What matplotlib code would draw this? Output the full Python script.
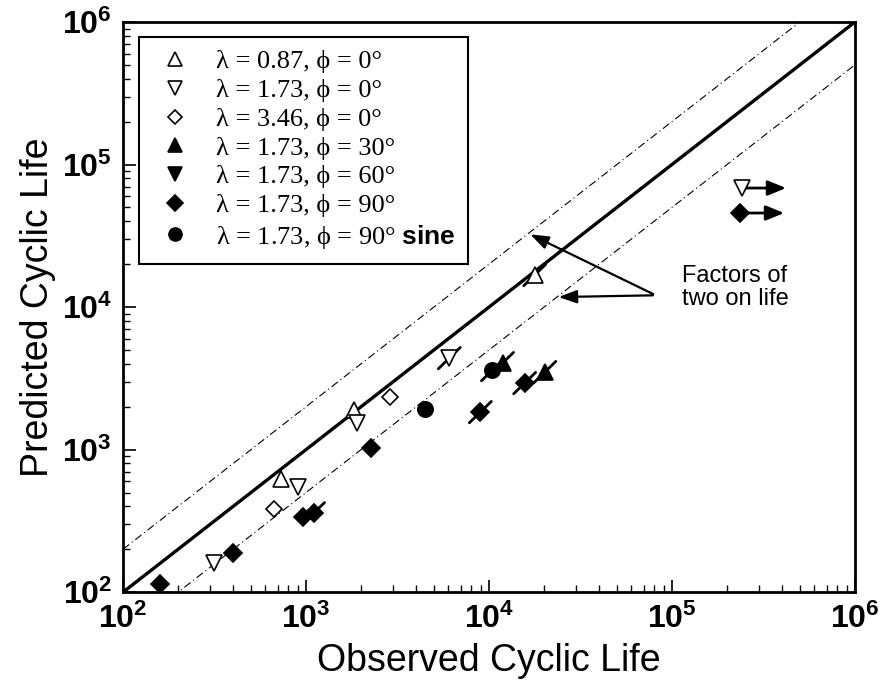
import matplotlib
matplotlib.use("Agg")
import numpy as np
import matplotlib.pyplot as plt
from matplotlib.ticker import FuncFormatter, LogLocator

plt.rcParams['font.family'] = ['Liberation Sans', 'DejaVu Sans']
plt.rcParams['mathtext.fontset'] = 'custom'
plt.rcParams['mathtext.bf'] = 'Liberation Sans:bold'
plt.rcParams['mathtext.rm'] = 'Liberation Sans:bold'
plt.rcParams['mathtext.sf'] = 'Liberation Sans:bold'

# data (observed, predicted cycles)
lam087_x = [730, 1820, 17800]
lam087_y = [620, 1890, 16800]
lam173_x = [313, 910, 1890, 6070]
lam173_y = [160, 550, 1535, 4385]
lam346_x = [668, 2870]
lam346_y = [382, 2335]
phi30_x = [11860, 20200]
phi30_y = [4045, 3500]
phi60_x = []
phi60_y = []
phi90_x = [160, 398, 966, 1100, 2260, 8970, 15670]
phi90_y = [115, 188, 336, 358, 1030, 1833, 2930]
sine_x = [4470, 10450]
sine_y = [1923, 3614]

# run-outs (no failure), shown with arrows
runout_x = [242000, 236000]
runout_y = [68400, 45700]
runout_marker = ['v', 'D']
runout_fill = ['white', 'black']

# points drawn with a short diagonal tail
tail_x = [6070, 17800, 11860, 20200, 15670, 8970, 1100, 10450]
tail_y = [4385, 16800, 4045, 3500, 2930, 1833, 358, 3614]

labels = [u'λ = 0.87, ϕ = 0°', u'λ = 1.73, ϕ = 0°', u'λ = 3.46, ϕ = 0°',
          u'λ = 1.73, ϕ = 30°', u'λ = 1.73, ϕ = 60°', u'λ = 1.73, ϕ = 90°',
          u'λ = 1.73, ϕ = 90° $\\mathsf{sine}$']

fig = plt.figure(figsize=(8.85, 6.87), dpi=100)
ax = fig.add_axes([0.139, 0.138, 0.827, 0.83])

lims = [100, 1e6]
ax.set_xscale('log')
ax.set_yscale('log')
ax.set_xlim(lims)
ax.set_ylim(lims)

# 1:1 line and factor-of-two bands
line_x = np.array(lims)
ax.plot(line_x, line_x, color='black', lw=2.4, zorder=2)
ax.plot(line_x, line_x * 2, color='black', lw=0.8, dashes=(7, 3, 1, 3), zorder=2)
ax.plot(line_x, line_x / 2, color='black', lw=0.8, dashes=(7, 3, 1, 3), zorder=2)

# tails
for tx, ty in zip(tail_x, tail_y):
    ax.plot([tx / 10**0.06, tx * 10**0.06], [ty / 10**0.075, ty * 10**0.075],
            color='black', lw=2.0, solid_capstyle='round', zorder=3)

series = [
    (lam087_x, lam087_y, '^', 'white', 12),
    (lam173_x, lam173_y, 'v', 'white', 12),
    (lam346_x, lam346_y, 'D', 'white', 8),
    (phi30_x, phi30_y, '^', 'black', 12),
    (phi60_x, phi60_y, 'v', 'black', 12),
    (phi90_x, phi90_y, 'D', 'black', 9),
    (sine_x, sine_y, 'o', 'black', 11),
]
handles = []
for (sx, sy, m, fc, ms), lab in zip(series, labels):
    h, = ax.plot(sx, sy, linestyle='none', marker=m, markerfacecolor=fc,
                 markeredgecolor='black', markeredgewidth=1.2, markersize=ms,
                 label=lab, zorder=4)
    handles.append(h)

# run-out points
for rx, ry, m, fc in zip(runout_x, runout_y, runout_marker, runout_fill):
    ax.annotate('', xy=(rx * 1.8, ry), xytext=(rx, ry),
                arrowprops=dict(arrowstyle='-|>,head_length=1.1,head_width=0.45',
                                color='black', lw=2), zorder=3)
    ax.plot(rx, ry, linestyle='none', marker=m, markerfacecolor=fc,
            markeredgecolor='black', markeredgewidth=1.2,
            markersize=12 if m == 'v' else 9, zorder=4)

# annotation
ax.text(113000, 13800, 'Factors of\ntwo on life', fontsize=17, ha='left', va='center',
        linespacing=1.05)
for ex, ey in [(16300, 33000), (23200, 11750)]:
    ax.annotate('', xy=(ex, ey), xytext=(81500, 12100),
                arrowprops=dict(arrowstyle='-|>,head_length=1.1,head_width=0.4',
                                color='black', lw=1.6))

leg = ax.legend(handles=handles, loc='upper left', bbox_to_anchor=(0.022, 0.974),
                borderaxespad=0, frameon=True, fancybox=False, framealpha=1,
                edgecolor='black', handlelength=1.7, handletextpad=0.7,
                borderpad=0.5, labelspacing=0.2,
                prop={'family': ['Liberation Serif', 'DejaVu Serif'], 'size': 19})
leg.get_frame().set_linewidth(1.5)
for h in leg.legend_handles:
    h.set_markersize(h.get_markersize() * 0.85)

# axes styling
for s in ax.spines.values():
    s.set_linewidth(2)
fmt = FuncFormatter(lambda v, p: r'$\mathbf{10^{%d}}$' % round(np.log10(v)))
ax.xaxis.set_major_formatter(fmt)
ax.yaxis.set_major_formatter(fmt)
ax.xaxis.set_major_locator(LogLocator(base=10, numticks=10))
ax.yaxis.set_major_locator(LogLocator(base=10, numticks=10))
ax.tick_params(which='major', direction='in', length=9, width=1.2, labelsize=23, pad=8)
ax.tick_params(which='minor', direction='in', length=5, width=1)

ax.set_xlabel('Observed Cyclic Life', fontsize=27, labelpad=6)
ax.set_ylabel('Predicted Cyclic Life', fontsize=27, labelpad=4)

fig.savefig('out.png', dpi=100)
